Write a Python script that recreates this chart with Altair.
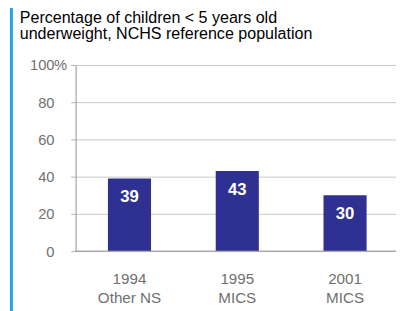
import altair as alt
import pandas as pd

categories = ["1994|Other NS", "1995|MICS", "2001|MICS"]
values = [39, 43, 30]
labels = ["39", "43", "30"]
subtitle = ["Percentage of children < 5 years old",
            "underweight, NCHS reference population"]
y_ticks = [0, 20, 40, 60, 80, 100]
pct_at = [100]

df = pd.DataFrame({"cat": categories, "val": values, "lab": labels})

FONT = "Liberation Sans"

xscale = alt.Scale(paddingInner=0.6, paddingOuter=0.3, range=[0, 330])
yscale = alt.Scale(domain=[0, 100])

x = alt.X(
    "cat:N",
    sort=categories,
    scale=xscale,
    axis=alt.Axis(
        title=None, ticks=False, domain=False, labelAngle=0,
        labelExpr="split(datum.label, '|')",
        labelFont=FONT, labelFontSize=15.5, labelColor="#707070",
        labelPadding=21, labelLineHeight=19,
    ),
)

yaxis = alt.Axis(
    title=None, values=y_ticks,
    labelFont=FONT, labelFontSize=15, labelColor="#707070",
    labelOverlap=False, labelFlush=False,
    tickSize=5, tickColor="#b0b0b0", labelPadding=17,
    domainColor="#909090", gridColor="#c8c8c8",
)

base = alt.Chart(df)

bars = base.mark_bar(color="#2e3192").encode(
    x=x,
    y=alt.Y("val:Q", scale=yscale, axis=yaxis),
)

text = base.mark_text(
    color="white", font=FONT, fontSize=17, fontWeight="bold",
    baseline="middle", dy=19,
).encode(x=x, y=alt.Y("val:Q", scale=yscale, axis=yaxis), text="lab:N")

zero = alt.Chart(pd.DataFrame({"z": [0]})).mark_rule(color="#909090").encode(
    y=alt.Y("z:Q", scale=yscale, axis=yaxis), x=alt.value(0), x2=alt.value(330)
)

pct = alt.Chart(pd.DataFrame({"v": pct_at, "t": ["%"]})).mark_text(
    font=FONT, fontSize=15, color="#707070", align="left", baseline="middle",
).encode(
    y=alt.Y("v:Q", scale=yscale, axis=yaxis), x=alt.value(-22), text="t:N"
)

side = alt.Chart(pd.DataFrame({"z": [0]})).mark_rule(
    color="#18a8f0", strokeWidth=3
).encode(x=alt.value(-65.5), y=alt.value(-60), y2=alt.value(260))

sub = alt.Chart(pd.DataFrame({"t": ["\n".join(subtitle)]})).mark_text(
    font=FONT, fontSize=16.4, color="#000000", align="left",
    baseline="alphabetic", lineBreak="\n", lineHeight=17,
).encode(x=alt.value(-57), y=alt.value(-43), text="t:N")

chart = alt.layer(bars, zero, text, pct, side, sub).properties(
    width=327, height=190,
    padding={"left": 69, "top": 55, "right": 0, "bottom": 58},
    autosize=alt.AutoSizeParams(type="none"),
).configure_view(stroke=None)

chart.save("out.html", embed_options={"renderer": "svg", "actions": False})
